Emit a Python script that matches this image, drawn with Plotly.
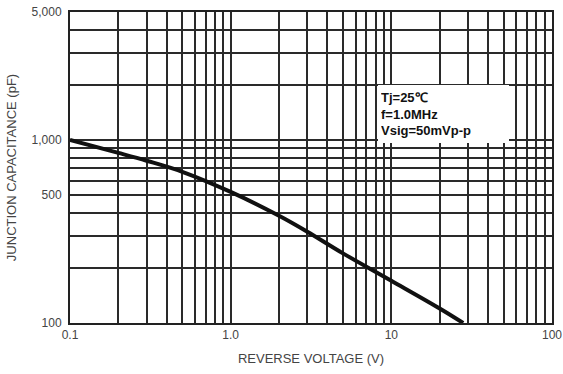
import plotly.graph_objects as go

# Data
reverse_voltage = [0.1, 0.2, 0.3, 0.5, 1.0, 2.0, 3.0, 5.0, 10.0, 20.0, 28.0]
capacitance_pf = [1000, 850, 770, 670, 520, 385, 315, 240, 170, 120, 100]

x_grid = [m * 10 ** e for e in (-1, 0, 1) for m in range(1, 10)] + [100]
x_labels = {0.1: "0.1", 1: "1.0", 10: "10", 100: "100"}
y_grid = [m * 10 ** e for e in (2, 3) for m in range(1, 10)]
y_grid = [v for v in y_grid if v <= 5000]
y_labels = {100: "100", 500: "500", 1000: "1,000", 5000: "5,000"}

x_text = [x_labels.get(round(v, 6), "") for v in x_grid]
y_text = [y_labels.get(v, "") for v in y_grid]

fig = go.Figure()
fig.add_trace(go.Scatter(
    x=reverse_voltage, y=capacitance_pf, mode="lines",
    line=dict(color="#111111", width=4, shape="spline", smoothing=1.0),
    showlegend=False, hoverinfo="skip"))

grid_col = "#2a2a2a"
font_family = "Liberation Sans, Arial, sans-serif"
fig.update_layout(
    width=563, height=374,
    margin=dict(l=70, r=11, t=12, b=51),
    paper_bgcolor="white", plot_bgcolor="white",
    font=dict(family=font_family, color="#3a3a3a", size=11),
    xaxis=dict(
        type="log", range=[-1, 2], automargin=False,
        tickvals=x_grid, ticktext=x_text, ticks="",
        showgrid=True, gridcolor=grid_col, gridwidth=2,
        showline=True, linecolor="#222", linewidth=2, mirror=True,
        zeroline=False, tickfont=dict(size=12, color="#444"),
        title=dict(text="REVERSE VOLTAGE (V)", font=dict(size=13, color="#444"), standoff=12),
    ),
    yaxis=dict(
        type="log", range=[2, 3.69897], automargin=False,
        tickvals=y_grid, ticktext=y_text, ticks="", ticklabelstandoff=4,
        showgrid=True, gridcolor=grid_col, gridwidth=2,
        showline=True, linecolor="#222", linewidth=2, mirror=True,
        zeroline=False, tickfont=dict(size=12, color="#444"),
        title=dict(text="JUNCTION CAPACITANCE (pF)", font=dict(size=13, color="#444"), standoff=12),
    ),
    annotations=[dict(
        xref="paper", yref="paper", x=0.640, y=0.765, xanchor="left", yanchor="top",
        text="<b>Tj=25℃<br>f=1.0MHz<br>Vsig=50mVp-p</b>",
        showarrow=False, align="left", width=125, height=52,
        font=dict(family=font_family, size=13, color="#111"),
        bgcolor="white", borderpad=3, borderwidth=0,
    )],
)

fig.write_html("out.html", config={"displayModeBar": False},
               post_script="document.body.style.margin='0';")
